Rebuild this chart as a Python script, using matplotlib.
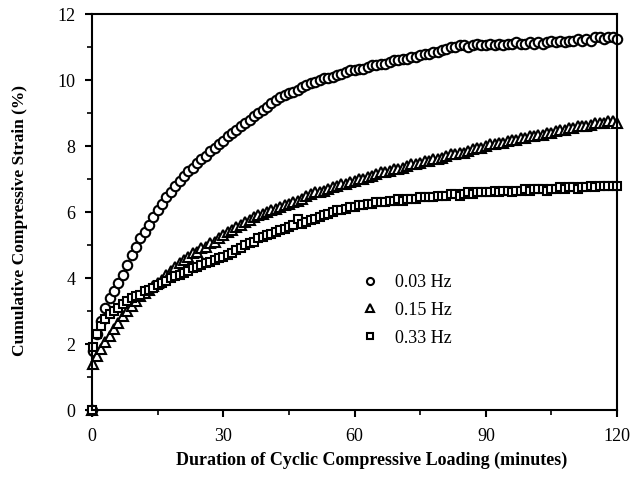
import numpy as np
import matplotlib
matplotlib.use("Agg")
import matplotlib.pyplot as plt
from matplotlib.ticker import MultipleLocator

plt.rcParams["font.family"] = ["Liberation Serif", "DejaVu Serif"]

# ==========================================
# DATA (minutes vs %)
# ==========================================
time_min = [0, 0.25] + list(range(1, 121))

strain_003 = [
    0, 1.8,
    2.3, 2.7, 3.1, 3.4, 3.6, 3.85, 4.1, 4.4, 4.7, 4.95,
    5.2, 5.4, 5.6, 5.85, 6.05, 6.25, 6.45, 6.6, 6.8, 6.95,
    7.1, 7.25, 7.35, 7.5, 7.6, 7.7, 7.85, 7.95, 8.05, 8.15,
    8.3, 8.4, 8.5, 8.6, 8.7, 8.8, 8.9, 9.0, 9.1, 9.2,
    9.3, 9.4, 9.5, 9.55, 9.6, 9.65, 9.7, 9.8, 9.85, 9.9,
    9.95, 10.0, 10.05, 10.05, 10.1, 10.15, 10.2, 10.25, 10.3, 10.3,
    10.35, 10.35, 10.4, 10.45, 10.45, 10.5, 10.5, 10.55, 10.6, 10.6,
    10.65, 10.65, 10.7, 10.7, 10.75, 10.8, 10.8, 10.85, 10.85, 10.9,
    10.95, 11.0, 11.0, 11.05, 11.05, 11.0, 11.05, 11.1, 11.05, 11.05,
    11.1, 11.05, 11.1, 11.05, 11.1, 11.1, 11.15, 11.1, 11.1, 11.15,
    11.1, 11.15, 11.1, 11.15, 11.2, 11.15, 11.2, 11.15, 11.2, 11.2,
    11.25, 11.2, 11.25, 11.2, 11.3, 11.3, 11.25, 11.3, 11.3, 11.25,
]

strain_015 = [
    0, 1.4,
    1.65, 1.85, 2.05, 2.25, 2.45, 2.65, 2.85, 3.0, 3.15, 3.3,
    3.45, 3.55, 3.65, 3.75, 3.85, 3.95, 4.1, 4.2, 4.35, 4.45,
    4.55, 4.65, 4.75, 4.8, 4.9, 4.95, 5.05, 5.1, 5.2, 5.3,
    5.4, 5.45, 5.55, 5.6, 5.7, 5.75, 5.85, 5.9, 5.95, 6.0,
    6.05, 6.1, 6.15, 6.2, 6.25, 6.3, 6.35, 6.4, 6.5, 6.55,
    6.6, 6.6, 6.65, 6.7, 6.75, 6.8, 6.85, 6.85, 6.9, 6.95,
    7.0, 7.0, 7.05, 7.1, 7.15, 7.2, 7.2, 7.25, 7.3, 7.3,
    7.35, 7.4, 7.45, 7.45, 7.5, 7.55, 7.55, 7.6, 7.6, 7.65,
    7.7, 7.75, 7.75, 7.8, 7.8, 7.85, 7.9, 7.95, 7.95, 8.0,
    8.05, 8.05, 8.1, 8.1, 8.15, 8.2, 8.2, 8.25, 8.25, 8.3,
    8.3, 8.35, 8.35, 8.4, 8.4, 8.45, 8.5, 8.5, 8.55, 8.55,
    8.6, 8.6, 8.6, 8.65, 8.7, 8.7, 8.7, 8.75, 8.75, 8.7,
]

strain_033 = [
    0, 1.9,
    2.3, 2.55, 2.75, 2.9, 3.0, 3.1, 3.2, 3.3, 3.4, 3.45,
    3.5, 3.6, 3.65, 3.7, 3.8, 3.85, 3.9, 4.0, 4.05, 4.1,
    4.15, 4.2, 4.3, 4.35, 4.4, 4.45, 4.5, 4.55, 4.6, 4.65,
    4.7, 4.75, 4.85, 4.9, 5.0, 5.05, 5.1, 5.2, 5.25, 5.3,
    5.35, 5.4, 5.45, 5.5, 5.55, 5.6, 5.8, 5.65, 5.7, 5.75,
    5.8, 5.85, 5.9, 5.95, 6.0, 6.05, 6.05, 6.1, 6.15, 6.15,
    6.2, 6.2, 6.25, 6.25, 6.3, 6.3, 6.3, 6.35, 6.35, 6.4,
    6.35, 6.4, 6.4, 6.4, 6.45, 6.45, 6.45, 6.45, 6.5, 6.5,
    6.5, 6.55, 6.55, 6.5, 6.55, 6.6, 6.55, 6.6, 6.6, 6.6,
    6.6, 6.65, 6.6, 6.65, 6.65, 6.6, 6.65, 6.65, 6.7, 6.65,
    6.7, 6.7, 6.7, 6.65, 6.7, 6.7, 6.75, 6.7, 6.75, 6.75,
    6.7, 6.75, 6.75, 6.8, 6.75, 6.8, 6.8, 6.8, 6.8, 6.8,
]

labels = ["0.03 Hz", "0.15 Hz", "0.33 Hz"]
markers = ["o", "^", "s"]

# ==========================================
# PLOT
# ==========================================
fig = plt.figure(figsize=(6.31, 4.87), dpi=100)
ax = fig.add_axes([0.146, 0.158, 0.832, 0.813])

sizes = [6.8, 7.0, 6.2]
for y, m, lab, ms in zip([strain_003, strain_015, strain_033], markers, labels, sizes):
    ax.plot(time_min, y, linestyle="none", marker=m, markersize=ms,
            markerfacecolor="white", markeredgecolor="black",
            markeredgewidth=1.5, label=lab, clip_on=False)

ax.set_xlim(0, 120)
ax.set_ylim(0, 12)
ax.xaxis.set_major_locator(MultipleLocator(30))
ax.xaxis.set_minor_locator(MultipleLocator(15))
ax.yaxis.set_major_locator(MultipleLocator(2))
ax.yaxis.set_minor_locator(MultipleLocator(1))

for s in ax.spines.values():
    s.set_linewidth(1.5)

ax.tick_params(which="major", direction="out", length=5, width=1.5,
               labelsize=13, pad=7)
ax.tick_params(which="minor", direction="out", length=3.5, width=1.2)
ax.tick_params(axis="x", which="major", pad=8)

ax.set_xlabel("Duration of Cyclic Compressive Loading (minutes)",
              fontsize=13, fontweight="bold")
ax.xaxis.set_label_coords(0.532, -0.105)
ax.set_ylabel("Cumulative Compressive Strain (%)",
              fontsize=12.5, fontweight="bold")
ax.yaxis.set_label_coords(-0.122, 0.48)

leg = ax.legend(loc="upper left", bbox_to_anchor=(0.485, 0.385),
                frameon=False, fontsize=13, markerscale=0.75,
                handlelength=0.8, handletextpad=1.0, labelspacing=0.6)

plt.savefig("out.png", dpi=100)
